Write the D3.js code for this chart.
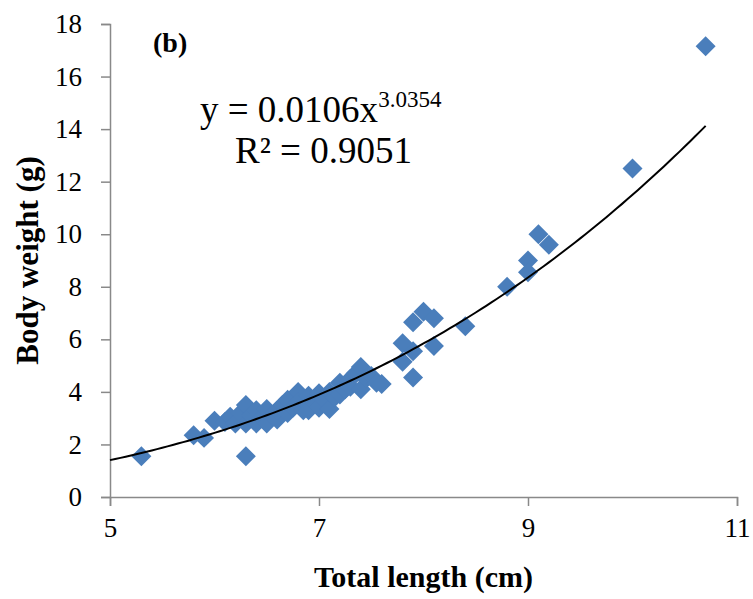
<!DOCTYPE html>
<html>
<head>
<meta charset="utf-8">
<script src="https://cdn.jsdelivr.net/npm/d3@7"></script>
<style>
  html, body { margin: 0; padding: 0; background: #fff; }
  svg { display: block; }
  text { font-family: "Liberation Serif", "Times New Roman", serif; fill: #000; }
</style>
</head>
<body>
<svg id="chart" width="753" height="599"></svg>
<script>
// Total length (cm) of each specimen
const lengths = [
  5.3, 5.8, 5.9, 6.0, 6.1, 6.15, 6.2, 6.25, 6.3, 6.3, 6.3, 6.35, 6.4, 6.4, 6.45,
  6.5, 6.5, 6.55, 6.6, 6.6, 6.65, 6.7, 6.7, 6.75, 6.8, 6.8, 6.85, 6.9, 6.9, 6.9,
  6.95, 7.0, 7.0, 7.05, 7.1, 7.1, 7.15, 7.2, 7.2, 7.25, 7.3, 7.3, 7.35, 7.4, 7.4,
  7.45, 7.5, 7.55, 7.6, 7.8, 7.8, 7.9, 7.9, 7.9, 8.0, 8.1, 8.1, 8.4, 8.8, 9.0,
  9.0, 9.1, 9.2, 10.0, 10.7
];
// Body weight (g) of each specimen
const weights = [
  1.55, 2.35, 2.25, 2.9, 2.85, 3.05, 2.8, 3.2, 3.5, 2.8, 1.55, 3.1, 3.3, 2.8, 3.0,
  3.35, 2.8, 3.1, 2.95, 3.3, 3.5, 3.2, 3.7, 3.4, 4.0, 3.6, 3.3, 3.85, 3.5, 3.3,
  3.6, 3.95, 3.4, 3.7, 3.35, 4.0, 3.8, 4.35, 3.9, 4.1, 4.5, 4.2, 4.7, 4.95, 4.1,
  4.5, 4.6, 4.35, 4.3, 5.85, 5.15, 6.65, 5.55, 4.55, 7.05, 6.8, 5.75, 6.5, 8.0, 9.0,
  8.55, 10.0, 9.6, 12.5, 17.15
];
// Axis ticks
const xTicks = [5, 7, 9, 11];
const yTicks = [0, 2, 4, 6, 8, 10, 12, 14, 16, 18];
// Power-law fit y = a·x^b
const fitA = 0.0106;
const fitB = 3.0354;
const fitR2 = "0.9051";

const points = lengths.map((x, i) => ({ x, y: weights[i] }));

const svg = d3.select("#chart");
const plotLeft = 110, plotRight = 737, plotTop = 24, plotBottom = 497;

const x = d3.scaleLinear().domain([5, 11]).range([plotLeft, plotRight]);
const y = d3.scaleLinear().domain([0, 18]).range([plotBottom, plotTop]);

const axisColor = "#898989";
const serif = "'Liberation Serif', 'Times New Roman', serif";

// X axis
const gx = svg.append("g")
  .attr("transform", `translate(0,${plotBottom})`)
  .call(d3.axisBottom(x).tickValues(xTicks).tickSize(9).tickPadding(12).tickFormat(d3.format("d")));
gx.attr("font-family", serif);
gx.select(".domain").attr("stroke", axisColor).attr("stroke-width", 1.5);
gx.selectAll(".tick line").attr("stroke", axisColor).attr("stroke-width", 1.5);
gx.selectAll(".tick text").attr("font-size", 27).attr("fill", "#000");

// Y axis
const gy = svg.append("g")
  .attr("transform", `translate(${plotLeft},0)`)
  .call(d3.axisLeft(y).tickValues(yTicks).tickSize(9).tickPadding(19).tickFormat(d3.format("d")));
gy.attr("font-family", serif);
gy.select(".domain").attr("stroke", axisColor).attr("stroke-width", 1.5);
gy.selectAll(".tick line").attr("stroke", axisColor).attr("stroke-width", 1.5);
gy.selectAll(".tick text").attr("font-size", 27).attr("fill", "#000");

// Data markers: blue diamonds
const diamond = d3.symbol().type(d3.symbolSquare).size(200);
svg.append("g").selectAll("path")
  .data(points)
  .join("path")
  .attr("d", diamond)
  .attr("transform", d => `translate(${x(d.x)},${y(d.y)}) rotate(45)`)
  .attr("fill", "#4a7ebb");

// Fitted power curve
const fitXs = d3.range(5, 10.7001, 0.05);
const fitLine = d3.line().x(d => x(d)).y(d => y(fitA * Math.pow(d, fitB)));
svg.append("path")
  .datum(fitXs)
  .attr("d", fitLine)
  .attr("fill", "none")
  .attr("stroke", "#000")
  .attr("stroke-width", 2);

// Panel label
svg.append("text")
  .attr("x", 153).attr("y", 52)
  .attr("font-size", 28).attr("font-weight", "bold")
  .text("(b)");

// Equation and R²
const eq = svg.append("text").attr("x", 200).attr("y", 122).attr("font-size", 37);
eq.append("tspan").text(`y = ${fitA}x`);
eq.append("tspan").attr("dy", -15).attr("font-size", 23).text(fitB);
svg.append("text")
  .attr("x", 235).attr("y", 163).attr("font-size", 37)
  .text(`R² = ${fitR2}`);

// Axis titles
svg.append("text")
  .attr("x", (plotLeft + plotRight) / 2).attr("y", 587)
  .attr("text-anchor", "middle")
  .attr("font-size", 30).attr("font-weight", "bold")
  .text("Total length (cm)");

svg.append("text")
  .attr("transform", `translate(38,${(plotTop + plotBottom) / 2}) rotate(-90)`)
  .attr("text-anchor", "middle")
  .attr("font-size", 31).attr("font-weight", "bold")
  .text("Body weight (g)");
</script>
</body>
</html>
